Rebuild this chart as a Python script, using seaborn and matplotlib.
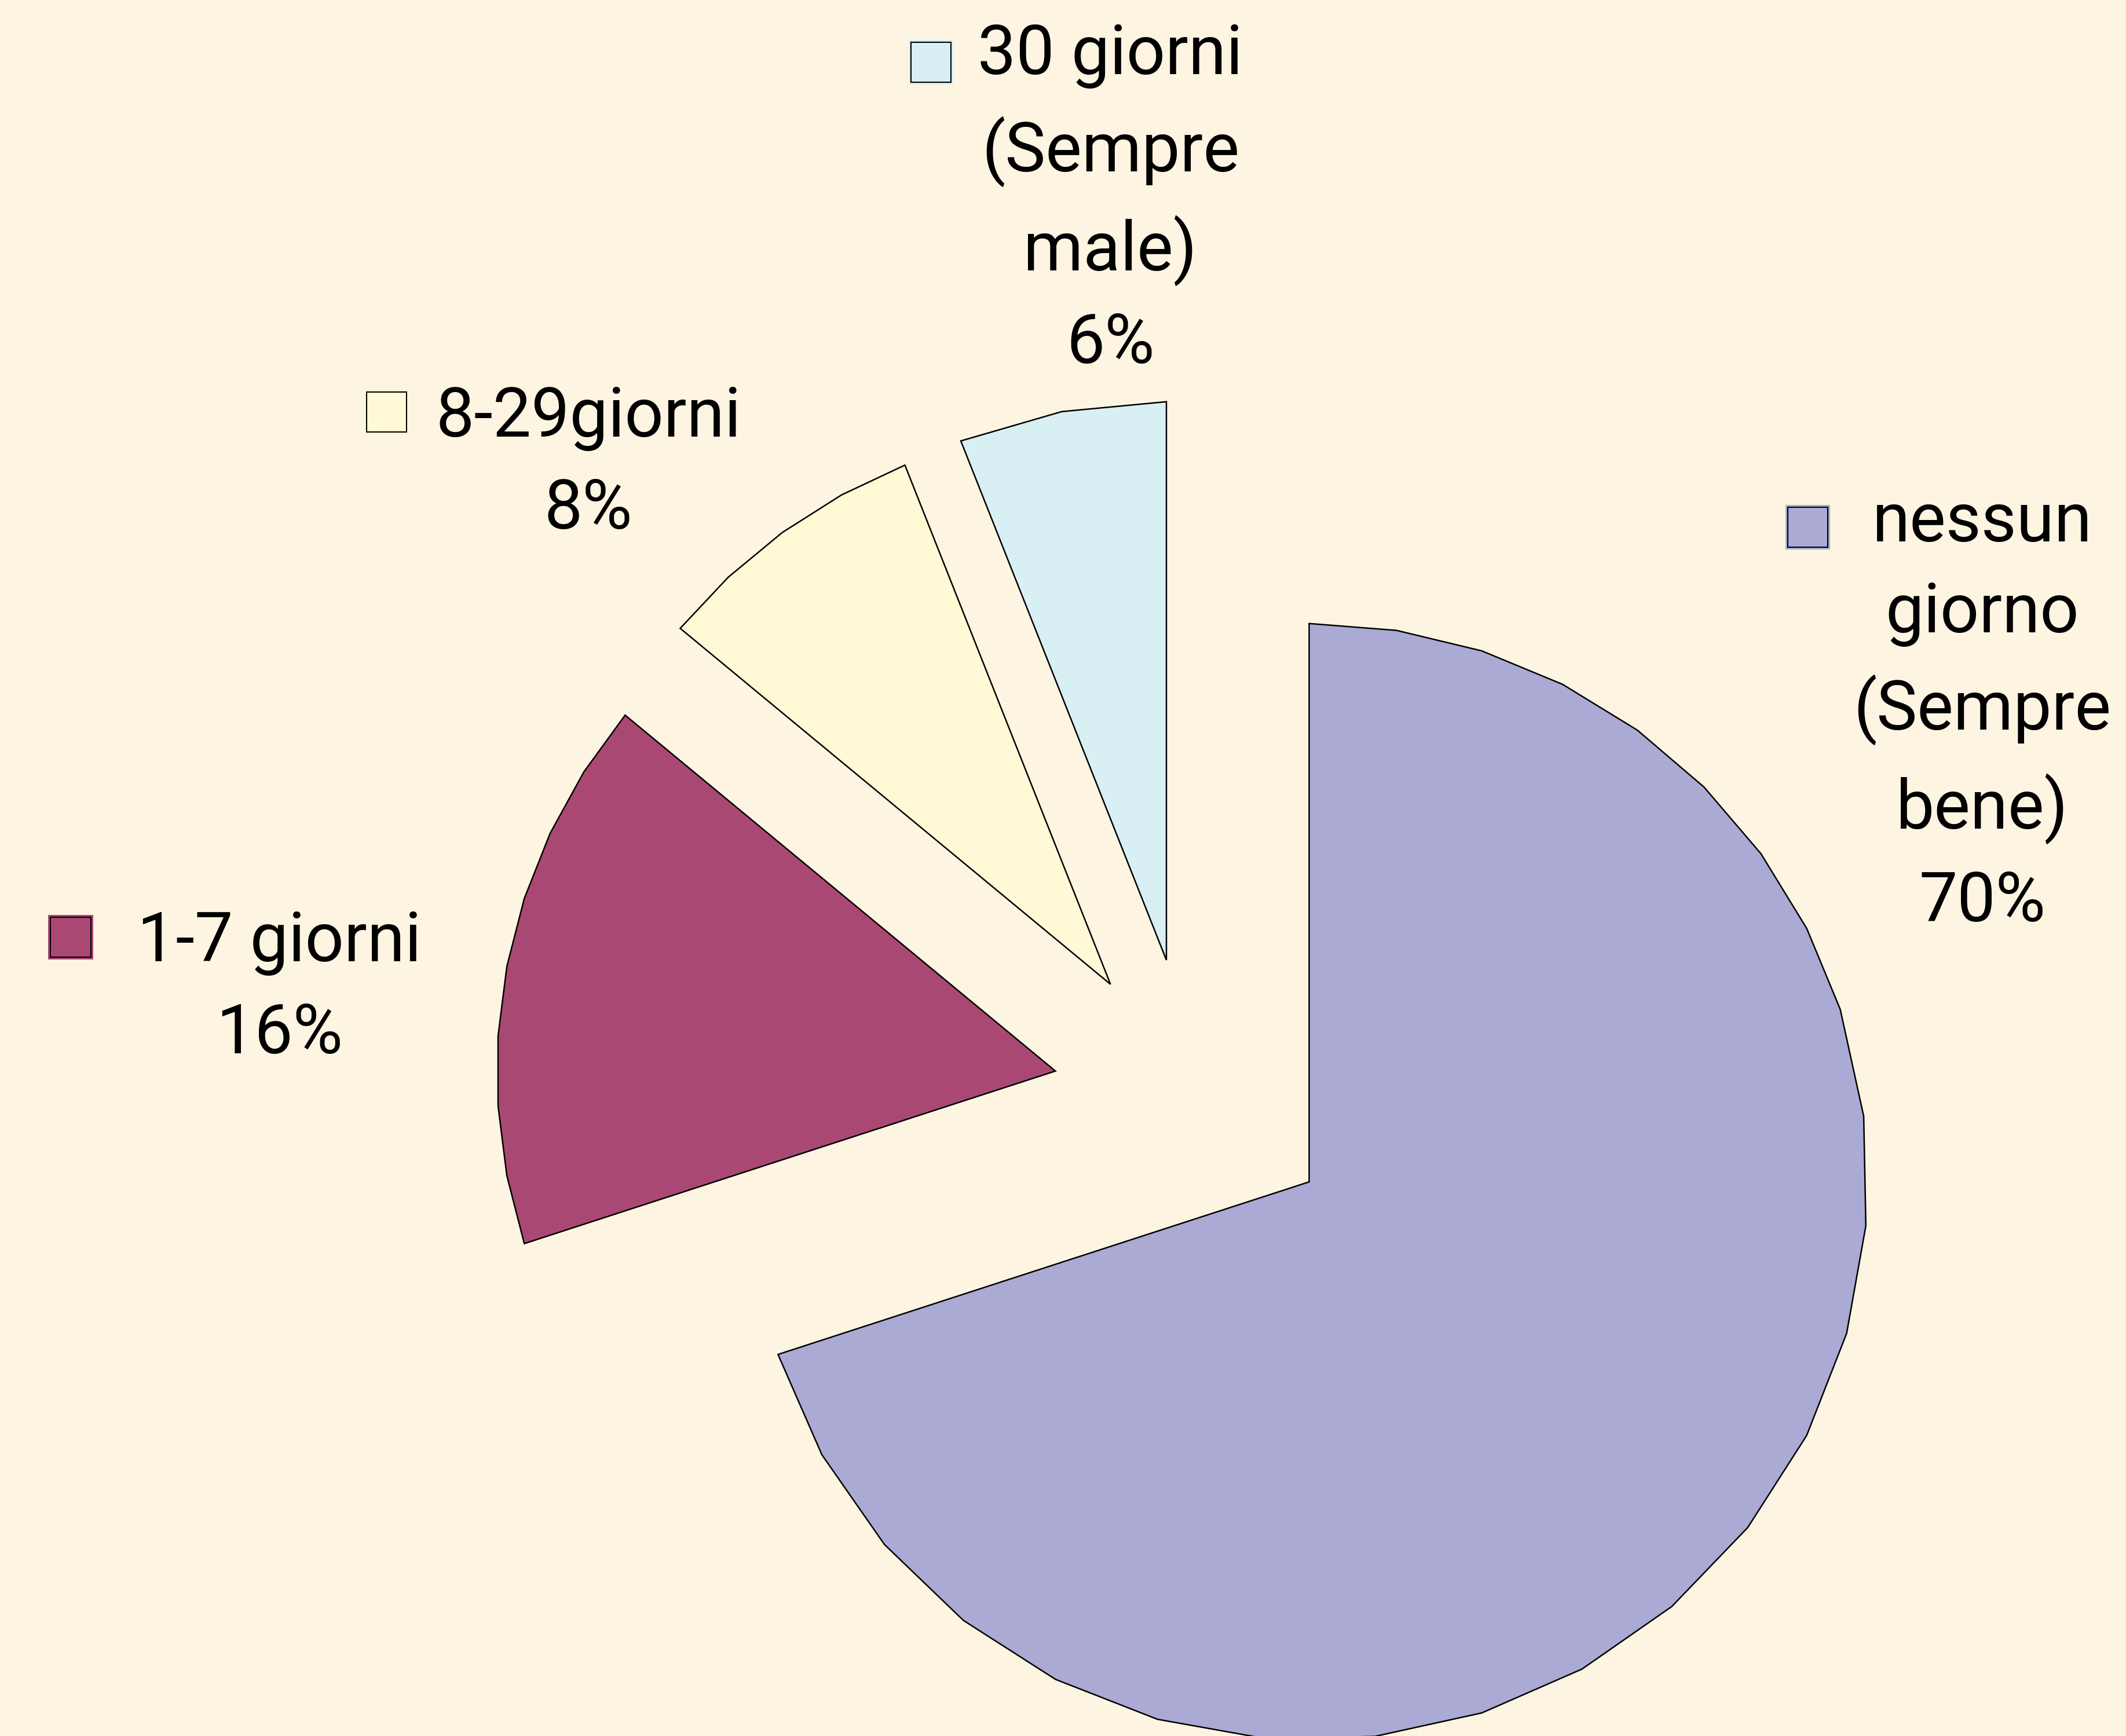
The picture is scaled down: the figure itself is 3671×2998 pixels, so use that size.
import numpy as np
import matplotlib
matplotlib.use("Agg")
import matplotlib.pyplot as plt
from matplotlib.patches import Polygon, Rectangle
import seaborn as sns

# Share of days per month with health problems
categories = [
    "nessun\ngiorno\n(Sempre\nbene)",
    "1-7 giorni",
    "8-29giorni",
    "30 giorni\n(Sempre\nmale)",
]
values = [70, 16, 8, 6]
slice_colors = ["#AAAAD4", "#AA4874", "#FFF9D6", "#D8EFF4"]

BACKGROUND = "#FDF5E1"
EXPLODE = [0.258, 0.25, 0.25, 0.25]
# faceting of each slice's outer edge: (share of the sweep, number of straight segments),
# listed clockwise from the slice's leading edge
ARC_FACETS = [[(2 / 7, 8), (5 / 7, 16)], [(1.0, 8)], [(1.0, 4)], [(1.0, 2)]]
EDGE_LW = 1.8

sns.set_theme(style="white", rc={"figure.facecolor": BACKGROUND,
                                 "axes.facecolor": BACKGROUND})
plt.rcParams["font.family"] = ["Roboto", "DejaVu Sans"]

W, H, DPI = 3671, 2998, 100
fig = plt.figure(figsize=(W / DPI, H / DPI), dpi=DPI)
fig.patch.set_facecolor(BACKGROUND)
ax = fig.add_axes([0, 0, 1, 1])

wedges, _ = ax.pie(values, explode=EXPLODE,
                   colors=sns.color_palette(slice_colors),
                   startangle=90, counterclock=False, radius=1.0,
                   wedgeprops=dict(edgecolor="black", linewidth=EDGE_LW))

# redraw each wedge as a faceted polygon
for w, facets in zip(wedges, ARC_FACETS):
    sweep = w.theta2 - w.theta1
    angles = [w.theta2]
    for share, n in facets:
        start = angles[-1]
        angles.extend(np.linspace(start, start - share * sweep, n + 1)[1:])
    theta = np.radians(angles)
    cx, cy = w.center
    arc = np.column_stack([cx + w.r * np.cos(theta), cy + w.r * np.sin(theta)])
    verts = np.vstack([[cx, cy], arc])
    ax.add_patch(Polygon(verts, closed=True, facecolor=w.get_facecolor(),
                         edgecolor="black", linewidth=EDGE_LW, joinstyle="miter"))
    w.remove()

ax.set_xlim(-2.135, 1.671)
ax.set_ylim(-1.144, 1.965)
ax.set_aspect("equal")
ax.axis("off")

# data labels (anchored at the baseline of the last line) with colour keys
label_pos = [(0.9324, 0.4692), (0.1314, 0.3934), (0.2768, 0.6956), (0.5223, 0.7908)]
key_pos = [(0.8504, 0.6963), (0.0332, 0.4602), (0.1818, 0.7627), (0.4378, 0.9641)]
KEY_W, KEY_H = 0.02105, 0.02576
INSET_X, INSET_Y = 4 / W, 4 / H

for cat, v, col, (tx, ty), (kx, ky) in zip(categories, values, slice_colors,
                                          label_pos, key_pos):
    fig.text(tx, ty, f"{cat}\n{v}%", ha="center", va="baseline",
             multialignment="center", fontsize=85, linespacing=1.5,
             color="black")
    fig.add_artist(Rectangle((kx - KEY_W / 2, ky - KEY_H / 2), KEY_W, KEY_H,
                             transform=fig.transFigure, facecolor=col,
                             edgecolor="none"))
    fig.add_artist(Rectangle((kx - KEY_W / 2 + INSET_X, ky - KEY_H / 2 + INSET_Y),
                             KEY_W - 2 * INSET_X, KEY_H - 2 * INSET_Y,
                             transform=fig.transFigure, facecolor="none",
                             edgecolor="black", linewidth=1.5))

fig.savefig("out.png", dpi=DPI, facecolor=BACKGROUND)
